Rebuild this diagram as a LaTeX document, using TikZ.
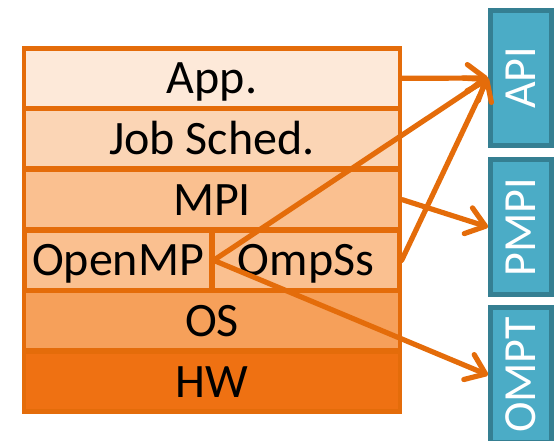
\documentclass[tikz,border=0pt]{standalone}
\usepackage{fontspec}
\setmainfont{Carlito}
\usetikzlibrary{arrows.meta}
\definecolor{edgeorange}{HTML}{E46C0A}
\definecolor{appfill}{HTML}{FDE9D9}
\definecolor{jobfill}{HTML}{FBD5B5}
\definecolor{mpifill}{HTML}{FAC090}
\definecolor{osfill}{HTML}{F6A05A}
\definecolor{hwfill}{HTML}{EF7112}
\definecolor{tealfill}{HTML}{4BACC6}
\definecolor{tealedge}{HTML}{357F92}
\tikzset{
  layer/.style={draw=edgeorange, line width=4.5pt, minimum width=376pt,
    minimum height=59.5pt, inner sep=0pt, text height=30.9pt, text depth=0pt,
    font=\fontsize{48}{52}\selectfont},
  halflayer/.style={layer, minimum width=186.8pt},
  apibox/.style={draw=tealedge, fill=tealfill, line width=5pt, rotate=90,
    minimum width=135pt, minimum height=61pt, inner sep=0pt,
    text=white, text height=29.6pt, text depth=0pt,
    font=\fontsize{46}{50}\selectfont},
  link/.style={draw=edgeorange, line width=5.2pt, line cap=round, line join=round,
    -{Straight Barb[length=18pt,width=27pt,line cap=round,line join=round]}}
}
\begin{document}
\begin{tikzpicture}[x=1pt,y=-1pt]
\useasboundingbox (0,0) rectangle (558,441);
% software stack, top to bottom
\node[layer, fill=appfill] (app) at (212,78.33) {App.};
\node[layer, fill=jobfill] (job) at (212,139) {Job Sched.};
\node[layer, fill=mpifill] (mpi) at (212,199.67) {MPI};
\node[halflayer, fill=mpifill] (openmp) at (118,260.33) {OpenMP};
\node[halflayer, fill=mpifill] (ompss) at (306,260.33) {OmpSs};
\node[layer, fill=osfill] (os) at (212,321) {OS};
\node[layer, fill=hwfill] (hw) at (212,381.67) {HW};
% tool interfaces
\begin{scope}
\clip (0,0) rectangle (558,441);
\node[apibox] (api) at (521,78) {API};
\node[apibox] (pmpi) at (521,227) {PMPI};
\node[apibox] (ompt) at (521,375) {OMPT};
\end{scope}
% connections
\draw[link] (app.east) -- (api.north);
\draw[link] (openmp.east) -- (api.north);
\draw[link] (ompss.east) -- (api.north);
\draw[link] (mpi.east) -- (pmpi.north);
\draw[link] (openmp.east) -- (ompt.north);
\end{tikzpicture}
\end{document}
